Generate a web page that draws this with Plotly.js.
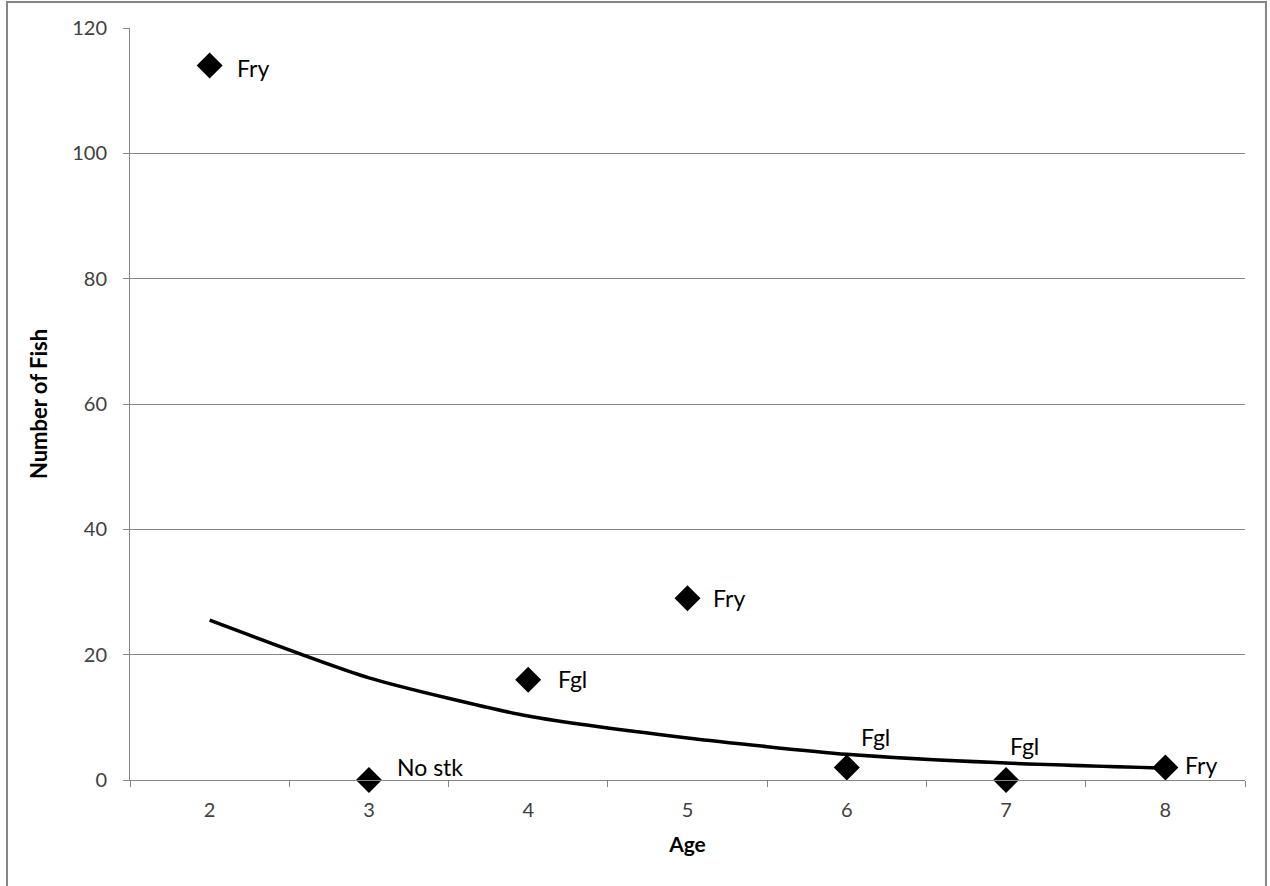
<!DOCTYPE html>
<html><head><meta charset="utf-8">
<script src="https://cdn.plot.ly/plotly-3.0.1.min.js"></script>
<style>body{margin:0;background:#fff}#c{width:1270px;height:886px}</style>
</head><body><div id="c"></div>
<script>
var ages = [2, 3, 4, 5, 6, 7, 8];
var fishCounts = [114, 0, 16, 29, 2, 0, 2];
var pointLabels = ["Fry", "No stk", "Fgl", "Fry", "Fgl", "Fgl", "Fry"];
var trendValues = [25.5, 16.3, 10.2, 6.7, 4.1, 2.7, 1.9];
var yTicks = [0, 20, 40, 60, 80, 100, 120];

var labelOffsets = [[25,-2],[26,13],[28,1],[23,0],[12,30],[2,34],[18,2]];

var font = "Lato, 'Open Sans', sans-serif";
var annotations = ages.map(function(a, i){
  return {x: a, y: fishCounts[i], xref: 'x', yref: 'y', text: pointLabels[i],
    showarrow: false, xanchor: 'left', yanchor: 'middle',
    xshift: labelOffsets[i][0], yshift: labelOffsets[i][1],
    font: {family: font, size: 23, color: '#000'}};
});

var data = [
  {x: ages, y: trendValues, mode: 'lines', line: {color: '#000', width: 3.5, shape: 'spline', smoothing: 0.6}, hoverinfo: 'skip', showlegend: false, cliponaxis: false},
  {x: ages, y: fishCounts, mode: 'markers', marker: {symbol: 'diamond', size: 20, color: '#000'}, showlegend: false, cliponaxis: false}
];

var layout = {
  width: 1270, height: 886,
  margin: {l: 130, r: 25, t: 28, b: 106},
  paper_bgcolor: '#fff', plot_bgcolor: '#fff',
  font: {family: font, color: '#404040'},
  xaxis: {range: [1.5, 8.5], tickvals: ages, ticktext: ages.map(String), showgrid: false, zeroline: false,
    showline: true, linecolor: '#868686', linewidth: 1, ticks: '', tickfont: {size: 20, color: '#404040'},
    ticklabelstandoff: 12,
    title: {text: '<b>Age</b>', font: {size: 21, color: '#000'}, standoff: 17}},
  xaxis2: {overlaying: 'x', range: [1.5, 8.5], tickvals: [1.5,2.5,3.5,4.5,5.5,6.5,7.5,8.5], ticks: 'outside', ticklen: 6, tickcolor: '#868686', showticklabels: false, showgrid: false, zeroline: false, anchor: 'y'},
  yaxis: {range: [0, 120], tickvals: yTicks, showgrid: true, gridcolor: '#868686', gridwidth: 1, zeroline: false,
    showline: true, linecolor: '#868686', linewidth: 1, ticks: 'outside', ticklen: 6, tickcolor: '#868686',
    tickfont: {size: 20, color: '#404040'}, ticklabelstandoff: 12,
    title: {text: '<b>Number of Fish</b>', font: {size: 22, color: '#000'}, standoff: 18}},
  annotations: annotations,
  shapes: [{type: 'rect', xref: 'paper', yref: 'paper', x0: -0.1103, x1: 1.0188, y0: -0.15, y1: 1.0346,
    line: {color: '#868686', width: 2}, fillcolor: 'rgba(0,0,0,0)', layer: 'below'}]
};
data.push({x: [1.5, 8.5], y: [null, null], xaxis: 'x2', yaxis: 'y', mode: 'markers', showlegend: false, hoverinfo: 'skip'});
Plotly.newPlot('c', data, layout, {displayModeBar: false});
</script></body></html>
